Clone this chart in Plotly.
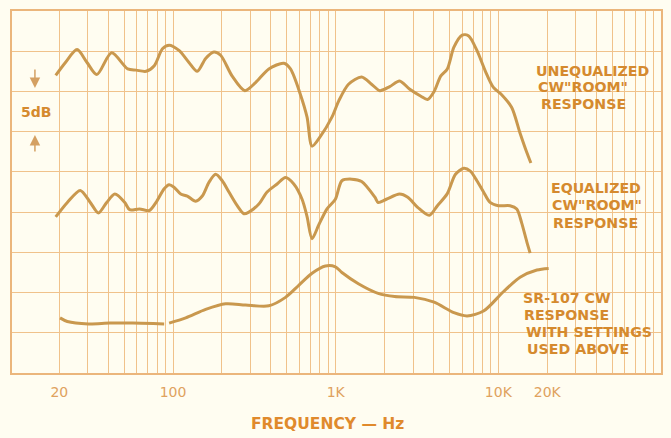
import plotly.graph_objects as go

# ---------------- data ----------------
unequalized_hz = [19.0, 21.8, 25.7, 29.6, 34.0, 41.9, 52.6, 59.4, 68.3, 76.7, 86.1, 94.6, 108.8, 125.3,
                  140.9, 158.7, 178.4, 196.2, 231.1, 276.5, 321.7, 388.2, 479.8, 527.3, 607.4, 666.8,
                  715.6, 805.4, 948, 1043, 1199, 1444, 1661, 1868, 2148, 2471, 2841, 3342, 3670, 4030,
                  4420, 4855, 5332, 5989, 6576, 7384, 8291, 9324, 10480, 12085, 13605, 14965, 15850]
unequalized_db = [37.0, 38.6, 40.2, 38.6, 37.1, 39.8, 37.8, 37.65, 37.5, 38.2, 40.3, 40.75, 40.1, 38.6,
                  37.5, 39.1, 39.9, 39.5, 36.9, 35.1, 36.1, 37.8, 38.5, 37.8, 34.6, 31.8,
                  28.2, 29.4, 31.8, 33.8, 35.9, 36.8, 35.9, 35.1, 35.6, 36.3, 35.3, 34.4, 34.0, 35.0,
                  36.9, 37.8, 40.5, 42.0, 41.9, 40.1, 37.6, 35.5, 34.6, 33.0, 29.8, 27.4, 26.1]

equalized_hz = [19.0, 22.4, 26.9, 31.0, 34.8, 39.1, 43.9, 50.5, 54.1, 62.2, 71.5, 78.6, 88.2, 94.6,
                101.4, 111.5, 122.4, 137.8, 151.3, 166.3, 182.8, 200.7, 220.6, 248.1, 272.6, 292.6,
                337.1, 378.8, 436.4, 491.3, 552.5, 621.4, 666.8, 715.6, 786.5, 884.5, 995.8, 1092,
                1256, 1444, 1742, 1824, 2049, 2471, 2775, 3191, 3758, 4221, 4855, 5451, 6133, 6725,
                7384, 8108, 8892, 10000, 11798, 12980, 13941, 14965, 15685]
equalized_db = [19.4, 21.2, 22.7, 21.2, 19.9, 21.2, 22.25, 21.2, 20.3, 20.4, 20.2, 21.2, 22.9, 23.4,
                23.1, 22.25, 22.0, 21.35, 22.0, 23.7, 24.7, 23.9, 22.5, 20.8, 19.8, 20.0,
                21.0, 22.5, 23.5, 24.3, 23.5, 21.6, 19.45, 16.7, 18.4, 20.4, 21.6, 23.9,
                24.1, 23.8, 21.85, 21.2, 21.6, 22.25, 21.85, 20.6, 19.6, 20.8, 22.3, 24.7, 25.45, 25.1,
                23.9, 22.5, 21.2, 20.8, 20.8, 20.4, 18.6, 16.3, 14.9]

sr107_hz = [20.2, 22.4, 30.2, 40.9, 56.7, 88.2, None, 94.6, 119.7, 158.7, 210.6, 279.3, 388.2, 491.3,
            593, 715.6, 864.8, 995.8, 1092, 1379, 1824, 2304, 3047, 4030, 5332, 6423, 8108, 10738,
            13605, 17258, 20390]
sr107_db = [6.85, 6.4, 6.1, 6.2, 6.2, 6.1, None, 6.2, 6.85, 7.9, 8.6, 8.45, 8.35, 9.4,
            10.9, 12.4, 13.3, 13.2, 12.5, 11.1, 9.9, 9.5, 9.4, 8.8, 7.5, 7.1, 7.7, 10.1,
            11.9, 12.8, 13.0]

grid_hz = [m * 10 ** d for d in range(1, 5) for m in range(1, 10) if m * 10 ** d >= 20]
tick_labels = {20: "20", 100: "100", 1000: "1K", 10000: "10K", 20000: "20K"}
grid_db = [5, 10, 15, 20, 25, 30, 35, 40]

unequalized_label = ["UNEQUALIZED", 'CW"ROOM"', "RESPONSE"]
equalized_label = ["EQUALIZED", 'CW"ROOM"', "RESPONSE"]
sr107_label = ["SR-107 CW", "RESPONSE", "WITH SETTINGS", "USED ABOVE"]

# ---------------- styling ----------------
BG = "#fffdf1"
GRID = "#f0c28b"
CURVE = "#c9984e"
TEXT = "#d58a2e"
FONT = "DejaVu Sans"

W, H = 671, 438
L, R, T, B = 12, 8, 11, 65.3
PW, PH = W - L - R, H - T - B


def px(xp):
    return (xp - L) / PW


def py(yp):
    return (H - B - yp) / PH


fig = go.Figure()
for xs, ys in [(unequalized_hz, unequalized_db), (equalized_hz, equalized_db), (sr107_hz, sr107_db)]:
    fig.add_trace(go.Scatter(x=xs, y=ys, mode="lines", connectgaps=False,
                             line=dict(color=CURVE, width=3, shape="spline", smoothing=0.8),
                             hoverinfo="skip", showlegend=False))

# boxes that hide the grid behind the labels
for x0, x1, y0, y1 in [(535, 661, 58, 113), (549, 661, 174, 232), (521, 661, 288, 361)]:
    fig.add_shape(type="rect", xref="paper", yref="paper", x0=px(x0), x1=px(x1),
                  y0=py(y1), y1=py(y0), fillcolor=BG, line=dict(width=0), layer="between")

ann = []
def label(lines, xs, ys):
    for t, xx, yy in zip(lines, xs, ys):
        ann.append(dict(text="<b>%s</b>" % t, xref="paper", yref="paper", x=px(xx), y=py(yy),
                        xanchor="left", yanchor="middle", showarrow=False, borderpad=0,
                        font=dict(family=FONT, size=14.2, color=TEXT)))

label(unequalized_label, [537, 539, 542], [70.7, 87.3, 104])
label(equalized_label, [552, 553, 554], [188.3, 205, 222.5])
label(sr107_label, [524, 525, 527, 528], [297.3, 314.5, 331.4, 348.3])

ann.append(dict(text="<b>5dB</b>", xref="paper", yref="paper", x=px(36), y=py(112),
                xanchor="center", yanchor="middle", showarrow=False,
                font=dict(family=FONT, size=14, color=TEXT)))
ann.append(dict(text="", xref="paper", yref="paper", x=px(35), y=py(88), ax=0, ay=-20,
                showarrow=True, arrowhead=2, arrowsize=1.4, arrowwidth=1.5, arrowcolor="#d4a062"))
ann.append(dict(text="", xref="paper", yref="paper", x=px(35), y=py(135), ax=0, ay=18,
                showarrow=True, arrowhead=2, arrowsize=1.4, arrowwidth=1.5, arrowcolor="#d4a062"))
ann.append(dict(text="<b>FREQUENCY — Hz</b>", xref="paper", yref="paper", x=px(328), y=py(424),
                xanchor="center", yanchor="middle", showarrow=False,
                font=dict(family=FONT, size=15.5, color="#e08a2c")))

fig.update_layout(
    width=W, height=H, margin=dict(l=L, r=R, t=T, b=B),
    paper_bgcolor=BG, plot_bgcolor=BG, annotations=ann, showlegend=False,
    xaxis=dict(type="log", range=[1.01, 5.0], tickvals=grid_hz,
               ticktext=[tick_labels.get(v, "") for v in grid_hz],
               showgrid=True, gridcolor=GRID, gridwidth=1, zeroline=False,
               showline=True, mirror=True, linecolor="#ebb67c", linewidth=1.5,
               ticks="outside", ticklen=5, tickcolor="rgba(0,0,0,0)",
               tickfont=dict(family=FONT, size=14, color="#e0a25e")),
    yaxis=dict(range=[0, 45], tickvals=grid_db, showticklabels=False,
               showgrid=True, gridcolor=GRID, gridwidth=1, zeroline=False,
               showline=True, mirror=True, linecolor="#ebb67c", linewidth=1.5, ticks=""),
)

fig.write_html("out.html")
